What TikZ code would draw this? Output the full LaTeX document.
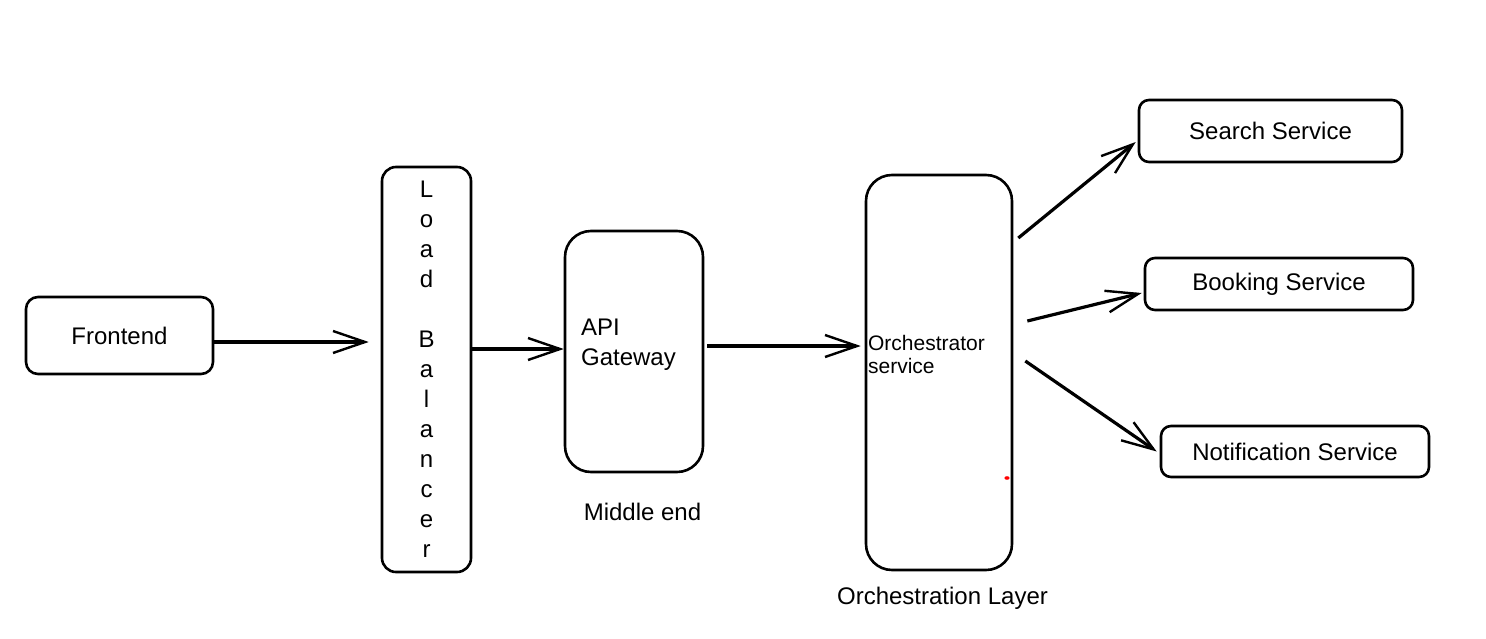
\documentclass[tikz,border=0pt]{standalone}
\usepackage{fontspec}
\setmainfont{Liberation Sans}
\usepackage{tikz}
\usetikzlibrary{arrows.meta,positioning}
\tikzstyle{block}=[draw, line width=1.3pt, align=center, inner sep=0pt]
\tikzstyle{frontbox}=[block, rounded corners=6pt, minimum width=93.5pt, minimum height=38.5pt]
\tikzstyle{lbbox}=[block, rounded corners=7pt, minimum width=44.5pt, minimum height=202.5pt]
\tikzstyle{gatebox}=[block, rounded corners=13pt, minimum width=69pt, minimum height=120.5pt]
\tikzstyle{orchbox}=[block, rounded corners=13pt, minimum width=73pt, minimum height=197.5pt]
\tikzstyle{svcbox}=[block, rounded corners=5pt, minimum width=134pt, minimum height=25.5pt]
\tikzstyle{lbl}=[align=left, inner sep=0pt]
\tikzstyle{link}=[->, line width=1.6pt]

\begin{document}
\begin{tikzpicture}[>={Straight Barb[length=16pt,width=11pt,line width=1.2pt]},font=\fontsize{12}{15}\selectfont]
    \useasboundingbox (-59.75pt,-151.25pt) rectangle (683.25pt,167.75pt);
    \node [frontbox] (fe) {Frontend};
    \node [lbbox] (lb) [right of=fe,node distance=153.5pt,yshift=-17pt] {L\\o\\a\\d\\[15pt]B\\a\\l\\a\\n\\c\\e\\r};
    \node [gatebox] (api) [right of=lb,node distance=103.75pt,yshift=9pt] {};
    \node [lbl, right=8.5pt of api.west, yshift=3.5pt] (apitext) {API\\Gateway};
    \node [orchbox] (orch) [right of=api,node distance=152.5pt,yshift=-10.5pt] {};
    \node [lbl, right=1.5pt of orch.west, yshift=9.25pt, font=\fontsize{10.5}{11.5}\selectfont] (orchtext) {Orchestrator\\service};
    \node (mid) [below of=api,node distance=80.25pt,xshift=4.25pt] {Middle end};
    \node (layer) [below of=orch,node distance=112.75pt,xshift=1.75pt] {Orchestration Layer};
    % services
    \node [svcbox, minimum width=131.5pt, minimum height=31pt] (search) [right of=orch,node distance=165.75pt,yshift=120.75pt] {Search Service};
    \node [svcbox, minimum height=26pt] (book) [right of=orch,node distance=170pt,yshift=44.25pt] {Booking Service};
    \node [svcbox] (notif) [right of=orch,node distance=178pt,yshift=-39.5pt] {Notification Service};
    \fill [red] (orch.center) ++(34pt,-52.75pt) ellipse (1.3pt and 0.9pt);
    % connectors
    \draw [link] ([yshift=-3.25pt]fe.east) -- ([xshift=-6pt,yshift=13.75pt]lb.west);
    \draw [link] ([yshift=10.25pt]lb.east) -- ([yshift=1.25pt]api.west);
    \draw [link] ([xshift=1.5pt,yshift=2.75pt]api.east) -- ([xshift=-2pt,yshift=13.25pt]orch.west);
    \draw [link] ([xshift=2.5pt,yshift=67.25pt]orch.east) -- ([xshift=-1pt,yshift=-5.5pt]search.west);
    \draw [link] ([xshift=7pt,yshift=25.75pt]orch.east) -- ([xshift=-1pt,yshift=-4.5pt]book.west);
    \draw [link] ([xshift=6pt,yshift=5.75pt]orch.east) -- ([xshift=-1.5pt]notif.west);
\end{tikzpicture}
\end{document}
